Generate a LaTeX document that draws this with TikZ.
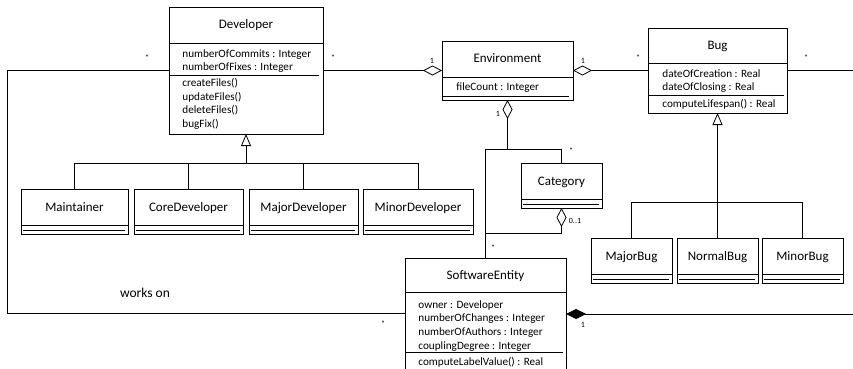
\documentclass[tikz,border=0pt]{standalone}
\usepackage{fontspec}
\setmainfont{Carlito}
\usetikzlibrary{arrows.meta}

\tikzset{
  classbox/.style={draw, rectangle, inner sep=0pt, outer sep=0pt, anchor=north west},
  classname/.style={font=\fontsize{13}{15}\selectfont, anchor=base, inner sep=0pt},
  members/.style={font=\fontsize{11.2}{13.7}\selectfont, align=left, anchor=north west, inner sep=0pt},
  mult/.style={font=\fontsize{8}{9}\selectfont, inner sep=0pt},
  inherit/.style={-{Triangle[open, length=12pt, width=10pt]}},
  aggr/.style={{Diamond[open, length=19pt, width=10pt]}-},
  compos/.style={{Diamond[length=20pt, width=10pt]}-},
}

\begin{document}
\begin{tikzpicture}[x=1pt, y=-1pt, line width=0.8pt]
\useasboundingbox (0,0) rectangle (853,369);
\clip (0,0) rectangle (853,369);

% Developer
\node[classbox, minimum width=154, minimum height=127] (dev) at (169,7) {};
\node[classname] (devname) at (246,29) {Developer};
\draw (169,43) -- (323,43);
\node[members] (devattr) at (182,49) {numberOfCommits : Integer\\numberOfFixes : Integer};
\draw (169,75) -- (319,75);
\node[members] (devops) at (182,78) {createFiles()\\updateFiles()\\deleteFiles()\\bugFix()};

% Environment
\node[classbox, minimum width=131, minimum height=59] (env) at (442,41) {};
\node[classname] (envname) at (507.5,63) {Environment};
\draw (442,77) -- (573,77);
\node[members] (envattr) at (456,82.5) {fileCount : Integer};
\draw (442,96) -- (569,96);

% Bug
\node[classbox, minimum width=139, minimum height=85] (bug) at (648,28) {};
\node[classname] (bugname) at (717.5,49) {Bug};
\draw (648,63) -- (787,63);
\node[members] (bugattr) at (662,69) {dateOfCreation : Real\\dateOfClosing : Real};
\draw (648,95.5) -- (784,95.5);
\node[members] (bugops) at (662,99) {computeLifespan() : Real};

% SoftwareEntity
\node[classbox, minimum width=161, minimum height=130] (se) at (405,258) {};
\node[classname] (sename) at (485.5,279) {SoftwareEntity};
\draw (405,292.5) -- (566,292.5);
\node[members] (seattr) at (418,300) {owner : Developer\\numberOfChanges : Integer\\numberOfAuthors : Integer\\couplingDegree : Integer};
\draw (405,352) -- (563,352);
\node[members] (seops) at (418,357) {computeLabelValue() : Real};

% classes without members
\foreach \nm/\lx/\ty/\bw in {Maintainer/21/189/107, CoreDeveloper/134/189/109,
    MajorDeveloper/249/189/109, MinorDeveloper/363/189/110, Category/521/163/81,
    MajorBug/591/238/81, NormalBug/677/238/81, MinorBug/762/238/81} {
  \node[classbox, minimum width=\bw, minimum height=45] (\nm) at (\lx,\ty) {};
  \node[classname] (\nm-name) at ([yshift=-22]\nm.north) {\nm};
  \draw ([yshift=-36]\nm.north west) -- ([yshift=-36]\nm.north east);
  \draw ([xshift=2,yshift=-41]\nm.north west) -- ([xshift=-3,yshift=-41]\nm.north east);
}

% generalizations
\coordinate (devbar) at (246,163);
\draw[inherit] (devbar) -- (dev.south);
\draw (Maintainer.north |- devbar) -- (MinorDeveloper.north |- devbar);
\foreach \nm in {Maintainer,CoreDeveloper,MajorDeveloper,MinorDeveloper}
  \draw (\nm.north) -- (\nm.north |- devbar);

\coordinate (bugbar) at (717.5,202);
\draw[inherit] (bugbar) -- (bug.south);
\draw (MajorBug.north |- bugbar) -- (MinorBug.north |- bugbar);
\foreach \nm in {MajorBug,NormalBug,MinorBug}
  \draw (\nm.north) -- (\nm.north |- bugbar);

% associations
\coordinate (workl) at (7,313);
\draw (dev.west) -| (workl) -- (workl -| se.west);
\node (works) at (145,293) {\fontsize{13.5}{15}\selectfont works on};
\node[mult] (m1) at (147,58) {*};
\node[mult] (m2) at (383,324) {*};

\draw[aggr] (env.west) -- (dev.east);
\node[mult] (m3) at (333,58) {*};
\node[mult] (m4) at (432,61) {1};

\draw[aggr] (env.east) -- (env.east -| bug.west);
\node[mult] (m5) at (583,61) {1};
\node[mult] (m6) at (638,58) {*};

\coordinate (bugr) at (853,70.5);
\draw (bug.east |- bugr) -- (bugr);
\node[mult] (m7) at (806,58) {*};

\coordinate (envj) at (507.5,149);
\draw[aggr] (env.south) -- (envj);
\draw (se.north) |- (Category.north |- envj) -- (Category.north);
\node[mult] (m8) at (498,114) {1};
\node[mult] (m9) at (571,151) {*};
\node[mult] (m10) at (493,248) {*};

\coordinate (catj) at (485.5,233);
\draw[aggr] (Category.south) |- (catj);
\node[mult] (m11) at (575,221) {0..1};

\coordinate (compr) at (853,314);
\draw[compos] (se.east |- compr) -- (compr);
\node[mult] (m12) at (583,325) {1};

\end{tikzpicture}
\end{document}
